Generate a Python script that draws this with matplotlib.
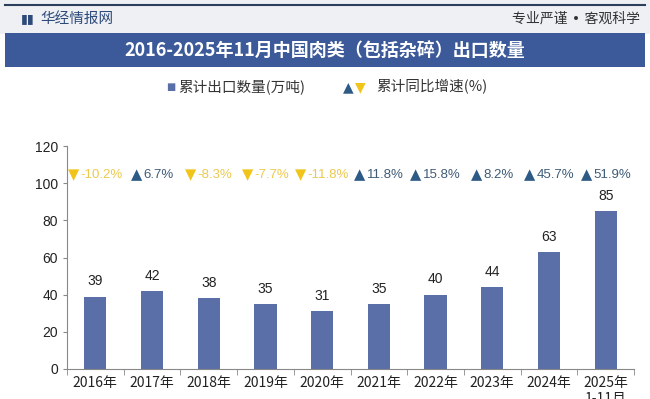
import matplotlib.pyplot as plt
from matplotlib.offsetbox import TextArea, HPacker, AnnotationBbox
from matplotlib.patches import Rectangle

plt.rcParams['font.family'] = ['Liberation Sans', 'Noto Sans CJK SC', 'DejaVu Sans']

# data
years = ['2016年', '2017年', '2018年', '2019年', '2020年',
         '2021年', '2022年', '2023年', '2024年', '2025年\n1-11月']
export_qty = [39, 42, 38, 35, 31, 35, 40, 44, 63, 85]
yoy_growth = [-10.2, 6.7, -8.3, -7.7, -11.8, 11.8, 15.8, 8.2, 45.7, 51.9]

bar_color = '#5a6ea8'
up_tri, up_txt = '#2d5b86', '#3f5b78'
dn_tri, dn_txt = '#f0c419', '#ecc94e'
cjk = ['Noto Sans CJK SC', 'DejaVu Sans']

fig = plt.figure(figsize=(6.5, 3.99), dpi=100)
fig.patch.set_facecolor('white')

# header strip
fig.patches.append(Rectangle((0, 1 - 34 / 399), 1, 34 / 399, transform=fig.transFigure,
                             facecolor='#eef0f4', edgecolor='none', zorder=0))
fig.add_artist(plt.Line2D([5 / 650, 645 / 650], [1 - 5 / 399] * 2, transform=fig.transFigure,
                          color='#2b3e5c', lw=1.5))
fig.text(21 / 650, 1 - 19 / 399, '▮▮', color='#2e4a7a', fontsize=9, va='center',
         family=['DejaVu Sans'])
fig.text(40 / 650, 1 - 19 / 399, '华经情报网', color='#2e4a7a', fontsize=10.5, va='center',
         family=cjk)
fig.text(640 / 650, 1 - 19 / 399, '专业严谨 • 客观科学', color='#333333', fontsize=10,
         va='center', ha='right', family=['DejaVu Sans', 'Noto Sans CJK SC'])

# title bar
fig.patches.append(Rectangle((5 / 650, 1 - 67 / 399), 640 / 650, 34 / 399,
                             transform=fig.transFigure, facecolor='#3c5a99',
                             edgecolor='none', zorder=0))
fig.text(0.5, 1 - 50 / 399, '2016-2025年11月中国肉类（包括杂碎）出口数量', color='white',
         fontsize=13, fontweight='bold', ha='center', va='center', family=cjk)

# legend
ly = 1 - 87 / 399
fig.text(171 / 650, ly, '■', color=bar_color, fontsize=7, va='center', ha='center',
         family=['DejaVu Sans'])
fig.text(178 / 650, ly, '累计出口数量(万吨)', color='#333333', fontsize=10.5,
         va='center', family=cjk)
fig.text(343 / 650, ly, '▲', color=up_tri, fontsize=10, va='center', family=['DejaVu Sans'])
fig.text(355 / 650, ly, '▼', color=dn_tri, fontsize=10, va='center', family=['DejaVu Sans'])
fig.text(376 / 650, ly, '累计同比增速(%)', color='#333333', fontsize=10.5,
         va='center', family=cjk)

ax = fig.add_axes([67 / 650, 30 / 399, 567 / 650, 223 / 399])
x = list(range(len(years)))
ax.bar(x, export_qty, width=0.39, color=bar_color, zorder=2)

for xi, v in zip(x, export_qty):
    ax.annotate(str(v), (xi, v), xytext=(0, 6), textcoords='offset points',
                ha='center', va='bottom', fontsize=10, color='#222222')

for xi, g in zip(x, yoy_growth):
    if g >= 0:
        tri, tc, tcol = '▲', up_tri, up_txt
    else:
        tri, tc, tcol = '▼', dn_tri, dn_txt
    t1 = TextArea(tri, textprops=dict(color=tc, fontsize=10.5, family=['DejaVu Sans']))
    t2 = TextArea(f'{g}%', textprops=dict(color=tcol, fontsize=9.5))
    box = HPacker(children=[t1, t2], pad=0, sep=1, align='center')
    ab = AnnotationBbox(box, (xi, 104.5), frameon=False, box_alignment=(0.5, 0.5),
                        pad=0)
    ax.add_artist(ab)

ax.set_xlim(-0.5, 9.5)
ax.set_ylim(0, 120)
ax.set_yticks(range(0, 121, 20))
ax.set_xticks(x)
ax.set_xticklabels(years, fontsize=10, color='#222222', family=cjk)
ax.set_xticks([i + 0.5 for i in range(-1, 10)], minor=True)
ax.tick_params(axis='x', which='major', length=0, pad=5)
ax.tick_params(axis='x', which='minor', length=4, color='#888888')
ax.tick_params(axis='y', length=3, color='#888888', labelsize=10, labelcolor='#222222')
for s in ['top', 'right']:
    ax.spines[s].set_visible(False)
for s in ['left', 'bottom']:
    ax.spines[s].set_color('#888888')

fig.savefig('out.png', dpi=100)
